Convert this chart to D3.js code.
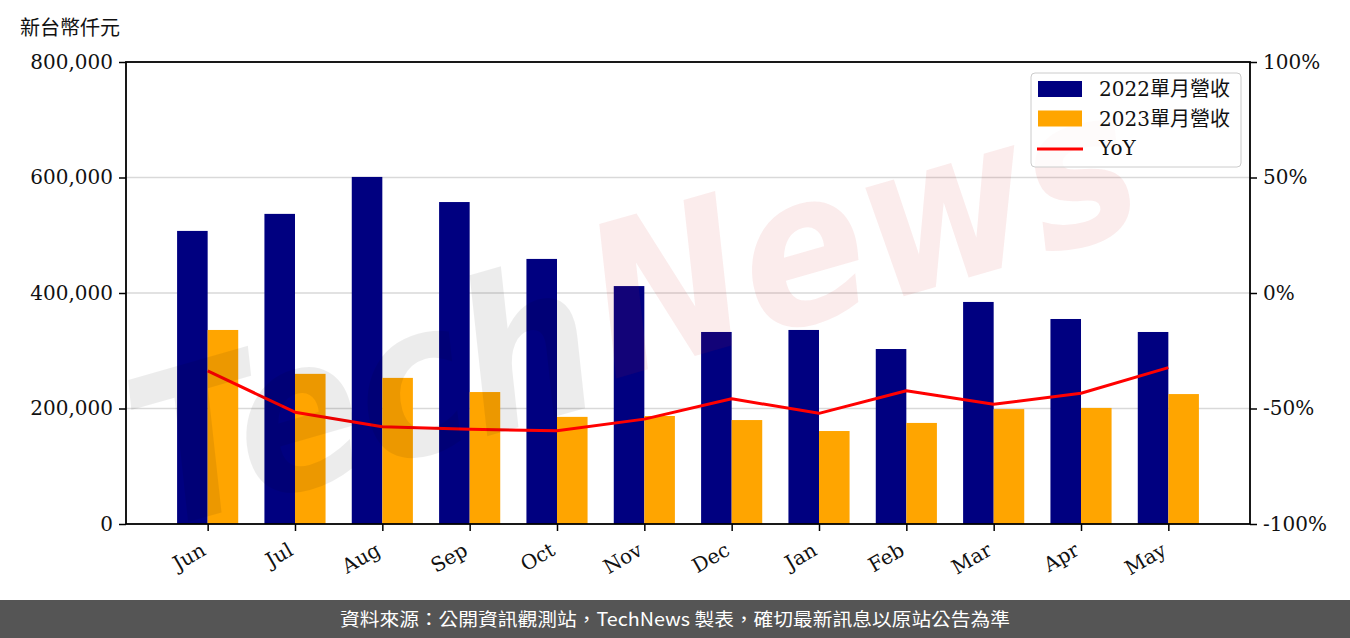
<!DOCTYPE html>
<html><head><meta charset="utf-8">
<script src="https://cdn.jsdelivr.net/npm/d3@7"></script>
<style>
html,body{margin:0;padding:0;background:#fff;}
svg{display:block;}
</style></head>
<body>
<svg id="chart" width="1350" height="638"></svg>
<script>
const months = ["Jun","Jul","Aug","Sep","Oct","Nov","Dec","Jan","Feb","Mar","Apr","May"];
const rev2022 = [507500, 537000, 601000, 557500, 459000, 412000, 332500, 336000, 303000, 384500, 355000, 332500];
const rev2023 = [336000, 260000, 253000, 228500, 185500, 187000, 180000, 161000, 175000, 199000, 201000, 225000];
const yoy = [-33.7, -51.6, -57.9, -59.0, -59.6, -54.6, -45.8, -52.1, -42.3, -48.2, -43.4, -32.3];
const leftTicks = [0, 200000, 400000, 600000, 800000];
const rightTicks = [-100, -50, 0, 50, 100];
const seriesNames = ["2022單月營收", "2023單月營收", "YoY"];
const colors = ["#000080", "#FFA500", "#FF0000"];

const svg = d3.select("#chart");
const L = 126, R = 1250, T = 62, B = 524;
const serif = "'DejaVu Serif', 'Noto Sans CJK TC', serif";

const x = d3.scaleLinear().domain([-0.935, 11.935]).range([L, R]);
const y = d3.scaleLinear().domain([0, 800000]).range([B, T]);
const y2 = d3.scaleLinear().domain([-100, 100]).range([B, T]);
const bw = 0.35;

// gridlines
svg.append("g").selectAll("line").data(leftTicks.filter(d => d > 0 && d < 800000)).join("line")
  .attr("x1", L).attr("x2", R).attr("y1", d => y(d)).attr("y2", d => y(d))
  .attr("stroke", "#d9d9d9").attr("stroke-width", 1.5);

// bars
svg.append("g").selectAll("rect").data(rev2022).join("rect")
  .attr("x", (d, i) => x(i - bw)).attr("width", (d, i) => x(i) - x(i - bw))
  .attr("y", d => y(d)).attr("height", d => y(0) - y(d)).attr("fill", colors[0]);
svg.append("g").selectAll("rect").data(rev2023).join("rect")
  .attr("x", (d, i) => x(i)).attr("width", (d, i) => x(i + bw) - x(i))
  .attr("y", d => y(d)).attr("height", d => y(0) - y(d)).attr("fill", colors[1]);

// yoy line
svg.append("path").datum(yoy)
  .attr("d", d3.line().x((d, i) => x(i)).y(d => y2(d)))
  .attr("fill", "none").attr("stroke", colors[2]).attr("stroke-width", 3).attr("stroke-linejoin", "round");

// watermark
const wm = svg.append("g").attr("transform", "translate(640,330) rotate(-16)");
wm.append("text").attr("x", -520).attr("y", 60).text("Tech")
  .attr("font-family", "'DejaVu Sans'").attr("font-style", "italic").attr("font-weight", "bold")
  .attr("font-size", 210).attr("fill", "rgba(0,0,0,0.075)").attr("textLength", 470).attr("lengthAdjust", "spacingAndGlyphs");
wm.append("text").attr("x", -40).attr("y", 40).text("News")
  .attr("font-family", "'DejaVu Sans'").attr("font-style", "italic").attr("font-weight", "bold")
  .attr("font-size", 210).attr("fill", "rgba(210,40,40,0.085)").attr("textLength", 560).attr("lengthAdjust", "spacingAndGlyphs");

// axes
const fmt = d3.format(",");
const axL = svg.append("g").attr("transform", `translate(${L},0)`)
  .call(d3.axisLeft(y).tickValues(leftTicks).tickFormat(fmt).tickSize(7).tickPadding(6));
const axR = svg.append("g").attr("transform", `translate(${R},0)`)
  .call(d3.axisRight(y2).tickValues(rightTicks).tickFormat(d => d + "%").tickSize(7).tickPadding(6));
const axB = svg.append("g").attr("transform", `translate(0,${B})`)
  .call(d3.axisBottom(x).tickValues(d3.range(months.length)).tickFormat(i => months[i]).tickSize(7).tickPadding(4));
[axL, axR, axB].forEach(a => {
  a.select(".domain").remove();
  a.selectAll(".tick line").attr("stroke", "#000").attr("stroke-width", 1.5);
  a.selectAll("text").attr("font-family", serif).attr("font-size", 20).attr("fill", "#111");
});
axB.selectAll("text").attr("text-anchor", "end").attr("dy", null)
  .attr("transform", "translate(-1,30) rotate(-30)").attr("y", 0).attr("x", 0);
svg.append("rect").attr("x", L).attr("y", T).attr("width", R - L).attr("height", B - T)
  .attr("fill", "none").attr("stroke", "#000").attr("stroke-width", 1.8);

// unit label
svg.append("text").attr("x", 20).attr("y", 35).text("新台幣仟元")
  .attr("font-family", "'Noto Sans CJK TC'").attr("font-size", 20).attr("fill", "#111");

// legend
const lg = svg.append("g");
lg.append("rect").attr("x", 1031).attr("y", 73).attr("width", 210).attr("height", 94).attr("rx", 4)
  .attr("fill", "rgba(255,255,255,0.8)").attr("stroke", "#cccccc").attr("stroke-width", 1);
seriesNames.forEach((n, i) => {
  const cy = 89 + i * 29.5;
  if (i < 2) lg.append("rect").attr("x", 1038).attr("y", cy - 8).attr("width", 44).attr("height", 16).attr("fill", colors[i]);
  else lg.append("line").attr("x1", 1037).attr("x2", 1083).attr("y1", cy + 1).attr("y2", cy + 1).attr("stroke", colors[i]).attr("stroke-width", 3);
  lg.append("text").attr("x", 1099).attr("y", cy + 7).text(n)
    .attr("font-family", serif).attr("font-size", 20).attr("fill", "#111");
});

// footer
svg.append("rect").attr("x", 0).attr("y", 600).attr("width", 1350).attr("height", 38).attr("fill", "#555555");
svg.append("text").attr("x", 675).attr("y", 626).attr("text-anchor", "middle")
  .text("資料來源：公開資訊觀測站，TechNews 製表，確切最新訊息以原站公告為準")
  .attr("font-family", "'Noto Sans CJK TC'").attr("font-size", 18).attr("fill", "#fff")
  .attr("textLength", 670).attr("lengthAdjust", "spacingAndGlyphs");
</script>
</body></html>
